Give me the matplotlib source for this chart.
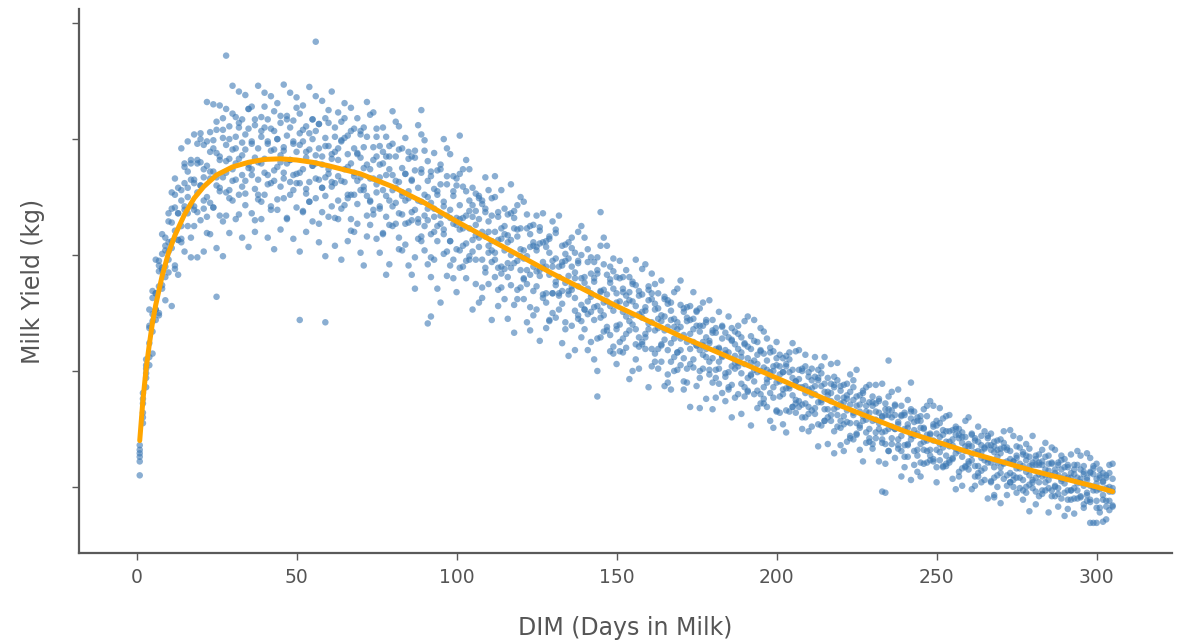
import matplotlib

matplotlib.use("Agg")
import matplotlib.pyplot as plt
import numpy as np

# Daily milk records: one row per DIM (day 1 .. 305), yields in kg.
milk_kg_by_day = [
    [13.6, 12.9, 12.6, 11.0], [15.5, 16.4, 17.2, 18.1], [18.6, 19.4, 20.5, 21.0],
    [20.5, 22.4, 23.7, 25.3], [23.4, 24.9, 26.3, 21.5], [26.7, 25.3, 29.6, 24.4],
    [27.3, 29.5, 24.8, 28.6], [30.1, 27.1, 28.7, 31.8], [26.1, 30.4, 29.0, 31.5],
    [33.6, 29.6, 31.1, 28.5], [31.2, 34.0, 25.6, 35.4], [29.1, 32.1, 34.1, 36.6],
    [31.3, 33.6, 35.8, 28.3], [34.7, 32.5, 39.2, 31.1], [34.2, 37.6, 30.3, 36.2],
    [37.2, 32.5, 35.0, 39.8], [29.8, 36.5, 34.3, 38.2], [40.4, 34.2, 36.5, 32.5],
    [35.4, 38.2, 29.8, 39.6], [33.0, 36.0, 38.0, 40.5],
    # day 21
    [34.0, 36.7, 39.5, 30.3], [37.7, 35.0, 43.2, 33.3], [36.6, 40.6, 31.8, 38.9],
    [39.9, 34.1, 37.2, 43.0], [30.6, 38.8, 36.0, 40.8], [42.9, 35.5, 38.2, 33.4],
    [36.7, 40.1, 29.9, 41.8], [33.4, 37.1, 39.5, 42.6], [35.6, 38.3, 41.1, 31.9],
    [39.1, 36.4, 44.6, 34.7], [37.9, 41.9, 33.1, 40.2], [41.0, 35.2, 38.3, 44.1],
    [31.5, 39.7, 36.9, 41.7], [43.8, 36.4, 39.1, 34.3], [37.5, 40.9, 30.7, 42.6],
    [33.6, 37.4, 39.8, 42.8], [35.7, 38.4, 41.2, 32.0], [39.2, 36.5, 44.6, 34.8],
    [37.9, 41.9, 33.1, 40.2], [41.0, 35.2, 38.3, 44.0],
    # day 41
    [31.5, 39.6, 36.9, 41.7], [43.7, 36.2, 39.0, 34.2], [37.3, 40.7, 30.5, 42.4],
    [33.9, 37.6, 40.0, 43.1], [35.9, 38.6, 41.4, 32.2], [39.3, 36.6, 44.7, 34.9],
    [37.9, 42.0, 33.2, 40.3], [41.0, 35.2, 38.2, 44.0], [31.4, 39.6, 36.9, 41.6],
    [43.6, 36.2, 38.9, 34.1], [37.1, 40.5, 30.3, 42.2], [33.7, 37.4, 39.8, 42.9],
    [35.7, 38.4, 41.1, 32.0], [39.1, 36.3, 44.5, 34.6], [37.7, 41.7, 32.9, 40.0],
    [40.7, 34.9, 37.9, 43.7], [31.1, 39.2, 36.5, 41.3], [43.3, 35.8, 38.5, 33.7],
    [36.7, 40.1, 29.9, 41.8], [33.3, 37.0, 39.4, 42.5],
    # day 61
    [38.7, 35.9, 44.1, 34.2], [30.8, 38.9, 36.2, 41.0], [33.1, 36.8, 39.2, 42.3],
    [36.4, 39.8, 29.6, 41.5], [40.1, 34.3, 37.4, 43.1], [34.9, 37.6, 40.3, 31.2],
    [42.7, 35.2, 37.9, 33.1], [36.8, 40.9, 32.0, 39.2], [32.7, 36.4, 38.8, 41.8],
    [30.2, 38.4, 35.6, 40.4], [35.9, 39.3, 29.1, 41.0], [37.8, 35.1, 43.2, 33.4],
    [42.1, 34.6, 37.4, 32.6], [39.3, 33.5, 36.6, 42.3], [36.1, 40.2, 31.4, 38.5],
    [34.0, 36.7, 39.4, 30.2], [31.8, 35.6, 37.9, 41.0], [35.1, 38.5, 28.3, 40.2],
    [29.2, 37.4, 34.7, 39.4], [36.9, 34.2, 42.4, 32.5],
    # day 81
    [38.5, 32.7, 35.8, 41.5], [41.1, 33.6, 36.3, 31.5], [35.1, 39.2, 30.4, 37.5],
    [30.9, 34.7, 37.0, 40.1], [32.8, 35.5, 38.3, 29.1], [28.3, 36.4, 33.7, 38.5],
    [33.9, 37.3, 27.1, 39.0], [35.8, 33.1, 41.2, 31.4], [37.4, 31.6, 34.6, 40.4],
    [39.9, 32.5, 35.2, 30.4], [34.0, 38.1, 29.2, 36.4], [31.8, 34.5, 37.2, 28.1],
    [29.6, 33.3, 35.7, 38.8], [27.1, 35.2, 32.5, 37.3], [32.7, 36.1, 25.9, 37.8],
    [34.6, 31.8, 40.0, 30.1], [36.1, 30.3, 33.4, 39.2], [38.7, 31.2, 33.9, 29.1],
    [32.7, 36.8, 28.0, 35.1], [30.5, 33.2, 36.0, 26.8],
    # day 101
    [28.9, 32.2, 34.3, 37.0], [37.4, 30.8, 33.2, 29.0], [33.4, 31.0, 38.2, 29.5],
    [34.7, 29.6, 32.3, 37.4], [31.3, 34.3, 25.3, 35.8], [31.7, 35.3, 27.5, 33.8],
    [25.9, 33.1, 30.7, 34.9], [29.6, 32.0, 34.4, 26.3], [34.0, 28.9, 31.6, 36.7],
    [27.5, 30.8, 32.9, 35.6], [30.4, 33.4, 24.4, 34.9], [32.0, 29.6, 36.8, 28.1],
    [28.9, 31.3, 33.7, 25.6], [35.6, 29.0, 31.4, 27.2], [30.4, 34.0, 26.2, 32.5],
    [24.5, 31.7, 29.3, 33.5], [31.3, 28.9, 36.1, 27.4], [29.3, 32.3, 23.3, 33.8],
    [26.2, 29.5, 31.6, 34.3], [32.3, 27.2, 29.9, 35.0],
    # day 121
    [34.6, 28.0, 30.4, 26.2], [27.5, 29.9, 32.3, 24.2], [23.5, 30.7, 28.3, 32.5],
    [29.0, 32.6, 24.8, 31.1], [25.3, 28.6, 30.7, 33.4], [28.2, 31.0, 22.6, 32.4],
    [31.1, 26.3, 28.9, 33.6], [26.7, 29.0, 31.2, 23.7], [28.3, 31.6, 24.4, 30.2],
    [32.9, 26.7, 29.0, 25.0], [24.6, 27.7, 29.7, 32.2], [29.0, 26.7, 33.4, 25.3],
    [22.4, 29.1, 26.9, 30.8], [27.6, 30.9, 23.6, 29.5], [26.9, 29.7, 21.3, 31.1],
    [23.9, 27.0, 29.0, 31.5], [21.8, 28.5, 26.3, 30.2], [29.5, 24.8, 27.3, 32.0],
    [28.0, 25.7, 32.5, 24.3], [31.5, 25.3, 27.6, 23.6],
    # day 141
    [24.9, 27.1, 29.4, 21.8], [26.4, 29.8, 22.5, 28.4], [21.0, 27.7, 25.5, 29.4],
    [25.6, 28.4, 20.0, 29.8], [30.8, 24.6, 26.9, 22.9], [27.0, 24.8, 31.5, 23.4],
    [28.3, 23.5, 26.0, 30.8], [25.6, 29.0, 21.7, 27.6], [22.1, 25.2, 27.1, 29.7],
    [23.6, 25.9, 28.1, 20.6], [29.5, 24.0, 26.0, 22.5], [25.1, 28.1, 21.6, 26.8],
    [22.0, 24.7, 26.5, 28.7], [24.3, 26.8, 19.3, 28.1], [20.0, 26.0, 24.0, 27.5],
    [25.6, 23.6, 29.6, 22.3], [22.9, 24.9, 26.9, 20.2], [26.6, 22.3, 24.6, 28.8],
    [25.2, 23.2, 29.2, 21.9], [23.6, 26.1, 18.6, 27.3],
    # day 161
    [26.2, 21.9, 24.2, 28.4], [20.8, 23.5, 25.3, 27.5], [23.7, 26.7, 20.2, 25.4],
    [27.8, 22.3, 24.3, 20.8], [18.7, 24.7, 22.7, 26.2], [21.8, 23.8, 25.8, 19.0],
    [18.4, 24.4, 22.4, 25.9], [20.0, 22.8, 24.5, 26.8], [27.1, 21.6, 23.6, 20.1],
    [23.8, 21.8, 27.8, 20.5], [21.1, 23.1, 25.1, 18.4], [22.5, 25.5, 19.0, 24.3],
    [21.9, 24.4, 16.9, 25.6], [24.5, 20.3, 22.5, 26.8], [22.2, 25.2, 18.7, 23.9],
    [19.4, 21.8, 23.4, 25.4], [23.9, 20.2, 22.2, 25.9], [17.6, 22.9, 21.2, 24.2],
    [22.6, 20.8, 26.1, 19.7], [21.1, 23.3, 16.7, 24.4],
    # day 181
    [20.1, 21.9, 23.7, 17.7], [25.1, 20.2, 22.0, 18.9], [21.2, 23.9, 18.1, 22.8],
    [19.8, 21.5, 23.3, 17.4], [24.7, 19.9, 21.6, 18.6], [20.4, 22.6, 16.0, 23.7],
    [20.7, 23.4, 17.7, 22.3], [18.0, 20.4, 21.9, 23.9], [16.3, 21.6, 19.8, 22.9],
    [22.4, 18.6, 20.6, 24.3], [21.1, 19.4, 24.7, 18.3], [19.7, 21.9, 15.3, 23.0],
    [20.9, 19.1, 24.4, 18.0], [19.9, 22.5, 16.8, 21.4], [21.8, 18.0, 20.0, 23.7],
    [23.4, 18.6, 20.3, 17.2], [16.9, 19.3, 20.9, 22.8], [18.1, 19.9, 21.6, 15.7],
    [15.1, 20.4, 18.6, 21.7], [16.5, 19.0, 20.5, 22.5],
    # day 201
    [19.1, 21.4, 16.4, 20.4], [15.4, 19.9, 18.4, 21.1], [18.5, 20.4, 14.7, 21.3],
    [16.5, 18.5, 19.9, 21.6], [19.4, 17.9, 22.4, 16.9], [21.7, 17.5, 19.1, 16.4],
    [20.1, 16.9, 18.6, 21.8], [17.1, 18.6, 20.2, 15.0], [21.4, 17.2, 18.7, 16.0],
    [16.9, 18.4, 19.9, 14.8], [17.9, 20.2, 15.2, 19.2], [19.5, 16.3, 18.0, 21.2],
    [17.3, 19.2, 13.5, 20.1], [15.3, 17.3, 18.7, 20.4], [18.2, 16.7, 21.2, 15.7],
    [13.7, 18.2, 16.7, 19.4], [18.9, 15.7, 17.4, 20.6], [16.7, 18.6, 12.9, 19.5],
    [17.7, 16.2, 20.7, 15.2], [15.7, 17.2, 18.7, 13.6],
    # day 221
    [13.1, 17.7, 16.1, 18.8], [16.6, 18.9, 13.9, 17.9], [19.7, 15.5, 17.1, 14.4],
    [14.1, 16.2, 17.5, 19.2], [17.0, 15.5, 20.1, 14.6], [15.1, 16.5, 17.9, 13.2],
    [15.7, 17.5, 12.2, 18.3], [13.8, 15.8, 17.0, 18.6], [18.8, 15.0, 16.4, 13.9],
    [15.7, 17.8, 13.3, 17.0], [17.2, 14.2, 15.8, 18.8], [12.2, 16.4, 15.0, 17.4],
    [16.1, 14.7, 18.9, 13.8], [12.0, 16.2, 14.8, 17.2], [13.1, 15.0, 16.2, 17.8],
    [16.6, 13.7, 15.2, 18.2], [15.0, 17.1, 12.5, 16.2], [15.6, 14.1, 18.4, 13.3],
    [14.4, 16.1, 10.9, 17.0], [13.6, 15.0, 16.4, 11.7],
    # day 241
    [17.5, 13.7, 15.1, 12.6], [14.1, 15.9, 10.6, 16.7], [14.4, 16.5, 11.9, 15.6],
    [13.2, 14.6, 16.0, 11.3], [10.9, 15.1, 13.7, 16.1], [12.0, 13.9, 15.1, 16.7],
    [17.0, 13.1, 14.5, 12.1], [14.6, 13.2, 17.4, 12.3], [15.4, 12.4, 14.0, 17.0],
    [10.4, 14.6, 13.2, 15.7], [14.3, 13.0, 16.8, 12.3], [11.7, 13.4, 14.5, 15.9],
    [16.1, 12.7, 13.9, 11.8], [14.8, 12.1, 13.5, 16.2], [12.4, 13.6, 14.9, 10.7],
    [12.9, 14.5, 9.8, 15.2], [13.1, 15.0, 10.9, 14.2], [10.1, 13.8, 12.6, 14.7],
    [14.3, 11.7, 13.1, 15.7], [13.5, 12.2, 16.0, 11.5],
    # day 261
    [9.8, 13.5, 12.3, 14.5], [11.8, 13.0, 14.2, 10.1], [15.2, 11.8, 13.1, 10.9],
    [12.5, 14.4, 10.4, 13.6], [10.6, 12.3, 13.4, 14.8], [12.1, 13.6, 9.0, 14.4],
    [10.4, 12.1, 13.2, 14.6], [9.3, 13.0, 11.7, 13.9], [12.1, 14.0, 10.0, 13.2],
    [11.7, 13.3, 8.6, 14.1], [13.4, 10.7, 12.1, 14.8], [11.0, 12.2, 13.4, 9.3],
    [12.4, 11.2, 14.9, 10.4], [14.4, 11.0, 12.2, 10.0], [11.6, 13.5, 9.5, 12.7],
    [14.2, 10.8, 12.0, 9.9], [10.6, 11.8, 13.0, 8.9], [9.5, 11.3, 12.3, 13.7],
    [11.0, 12.6, 7.9, 13.3], [11.9, 10.6, 14.4, 9.9],
    # day 281
    [8.5, 11.9, 10.8, 12.7], [11.1, 12.8, 9.2, 12.1], [9.4, 10.9, 11.9, 13.2],
    [11.5, 10.4, 13.8, 9.7], [10.6, 12.0, 7.8, 12.7], [12.1, 9.7, 11.0, 13.4],
    [13.2, 10.1, 11.2, 9.2], [9.9, 11.0, 12.1, 8.3], [9.0, 10.5, 11.5, 12.7],
    [10.3, 11.7, 7.5, 12.4], [9.7, 10.8, 11.9, 8.1], [12.8, 9.7, 10.8, 8.9],
    [7.7, 11.1, 9.9, 11.9], [10.8, 9.7, 13.1, 9.0], [11.5, 9.1, 10.4, 12.7],
    [10.1, 11.8, 8.2, 11.1], [10.6, 9.5, 12.9, 8.8], [11.3, 8.9, 10.1, 12.5],
    [9.7, 11.1, 6.9, 11.8], [8.2, 9.7, 10.7, 12.0],
    # day 301
    [9.8, 11.5, 7.8, 10.8], [7.0, 10.4, 9.3, 11.2], [8.8, 9.9, 11.0, 7.2],
    [11.9, 8.8, 10.0, 8.0], [10.7, 8.3, 9.6, 12.0],
]

# Second batch of records for the same days (day 1 .. 305), two per day
milk_kg_by_day_b = [
    [13.2, 12.2], [16.0, 17.6], [19.8, 20.2], [21.2, 23.9], [26.9, 24.3],
    [25.3, 26.7], [29.1, 25.0], [28.9, 27.4], [28.1, 30.8], [32.9, 30.3],
    [30.6, 32.8], [35.2, 28.8], [33.6, 31.3], [31.4, 35.6], [37.9, 33.9],
    [33.6, 35.8], [37.9, 31.5], [36.2, 33.9], [33.7, 37.9], [40.0, 36.0],
    # day 21
    [34.7, 37.4], [39.8, 31.9], [37.2, 34.5], [34.1, 39.2], [41.5, 36.7],
    [35.8, 38.5], [40.8, 32.9], [38.1, 35.4], [34.9, 40.0], [42.2, 37.4],
    [36.5, 39.2], [41.4, 33.5], [38.6, 35.9], [35.3, 40.4], [42.6, 37.8],
    [36.9, 39.6], [41.7, 33.0], [38.0, 35.2], [34.6, 40.7], [42.8, 37.1],
    # day 41
    [36.1, 39.8], [40.9, 33.9], [39.1, 36.4], [34.8, 40.0], [42.0, 38.0],
    [37.1, 39.0], [41.7, 33.1], [38.2, 36.3], [35.6, 39.8], [42.7, 37.0],
    [36.2, 39.5], [40.8, 33.8], [38.9, 35.3], [34.6, 40.5], [41.7, 37.7],
    [36.6, 38.6], [41.3, 32.7], [37.8, 35.8], [35.1, 39.4], [41.4, 37.4],
    # day 61
    [36.3, 38.3], [40.2, 33.2], [38.2, 34.7], [34.0, 39.9], [41.8, 36.3],
    [35.2, 38.7], [40.7, 32.1], [37.1, 35.2], [34.4, 38.7], [40.7, 36.7],
    [35.6, 37.5], [40.2, 31.6], [36.6, 34.7], [33.9, 38.2], [40.9, 35.4],
    [34.2, 37.8], [38.9, 31.9], [36.9, 33.3], [32.6, 38.5], [39.6, 35.6],
    # day 81
    [34.5, 36.4], [39.1, 30.5], [35.4, 33.5], [32.7, 37.0], [38.9, 34.9],
    [33.0, 36.5], [38.4, 29.8], [34.7, 32.8], [31.2, 37.1], [39.0, 33.4],
    [33.0, 35.0], [36.8, 29.8], [34.0, 32.0], [31.2, 35.5], [37.4, 33.4],
    [32.2, 34.2], [36.8, 28.2], [33.2, 31.2], [29.6, 35.5], [36.6, 32.6],
    # day 101
    [33.1, 30.4], [35.9, 32.3], [35.5, 28.0], [29.9, 33.8], [30.3, 33.3],
    [32.6, 29.6], [35.1, 31.5], [34.7, 27.2], [28.5, 33.7], [30.2, 32.0],
    [31.2, 29.4], [35.0, 30.2], [33.3, 27.0], [28.4, 32.3], [28.8, 31.8],
    [31.1, 28.1], [33.6, 30.0], [33.2, 25.7], [27.0, 32.2], [28.7, 30.5],
    # day 121
    [29.7, 27.9], [33.5, 28.7], [31.8, 25.5], [26.9, 30.8], [27.3, 30.4],
    [32.1, 28.7], [29.4, 26.6], [25.9, 30.7], [31.4, 24.3], [26.7, 29.5],
    [31.9, 27.4], [28.1, 26.5], [25.8, 29.4], [30.1, 24.2], [26.6, 28.2],
    [30.6, 27.3], [28.0, 25.2], [24.5, 29.3], [30.0, 22.9], [25.3, 28.1],
    # day 141
    [30.5, 26.0], [26.7, 25.1], [24.4, 28.0], [28.7, 22.8], [25.2, 26.8],
    [29.2, 25.9], [26.6, 23.8], [23.1, 27.9], [28.6, 21.5], [23.9, 26.7],
    [28.0, 21.7], [22.8, 27.1], [25.8, 23.2], [23.5, 26.1], [27.7, 24.8],
    [27.4, 21.0], [22.1, 26.5], [25.1, 22.5], [22.9, 25.5], [27.0, 24.1],
    # day 161
    [26.7, 20.4], [21.5, 25.8], [24.5, 21.9], [22.2, 24.8], [26.4, 23.5],
    [26.1, 19.7], [20.8, 25.2], [23.8, 21.2], [21.6, 24.2], [25.7, 22.8],
    [25.4, 19.1], [20.2, 24.6], [23.2, 20.6], [21.0, 23.6], [25.1, 22.2],
    [20.0, 23.9], [21.4, 22.5], [24.4, 21.9], [22.4, 20.1], [23.5, 19.0],
    # day 181
    [19.4, 23.3], [20.8, 21.9], [23.8, 21.3], [21.8, 19.5], [22.9, 18.4],
    [18.8, 22.7], [20.2, 21.3], [23.2, 20.7], [21.2, 18.9], [22.3, 17.8],
    [18.2, 22.1], [19.6, 20.7], [22.6, 20.1], [20.6, 18.3], [21.7, 17.2],
    [17.6, 21.5], [19.0, 20.1], [22.0, 19.5], [20.0, 17.7], [21.1, 16.6],
    # day 201
    [19.7, 17.8], [18.0, 19.9], [20.6, 16.6], [21.0, 18.7], [16.9, 20.1],
    [19.1, 17.2], [17.4, 19.3], [20.0, 16.0], [20.4, 18.1], [16.3, 19.5],
    [18.5, 16.6], [16.8, 18.7], [19.4, 15.4], [19.8, 17.5], [15.7, 18.9],
    [17.9, 16.0], [16.2, 18.1], [18.8, 14.8], [19.2, 16.9], [15.1, 18.3],
    # day 221
    [17.3, 15.4], [15.6, 17.6], [18.2, 14.2], [18.6, 16.4], [14.5, 17.8],
    [15.3, 17.1], [18.1, 16.1], [16.5, 14.7], [14.2, 17.3], [17.3, 13.7],
    [14.7, 16.5], [17.6, 15.5], [16.0, 14.1], [13.7, 16.7], [16.7, 13.1],
    [14.2, 16.0], [17.0, 15.0], [15.4, 13.6], [13.1, 16.2], [16.2, 12.6],
    # day 241
    [13.6, 15.4], [16.5, 14.5], [14.9, 13.1], [12.7, 15.7], [15.7, 12.1],
    [13.2, 15.0], [16.1, 14.0], [14.5, 12.7], [12.2, 15.2], [15.3, 11.7],
    [15.5, 13.7], [14.9, 11.8], [12.0, 14.8], [13.9, 12.3], [12.5, 14.1],
    [15.0, 13.3], [14.5, 11.3], [11.6, 14.3], [13.5, 11.8], [12.0, 13.7],
    # day 261
    [14.6, 12.8], [14.0, 10.9], [11.2, 13.9], [13.0, 11.4], [11.6, 13.3],
    [14.2, 12.4], [13.6, 10.5], [10.8, 13.5], [12.6, 11.0], [11.2, 12.9],
    [13.8, 12.0], [13.2, 10.1], [10.4, 13.1], [12.2, 10.6], [10.8, 12.5],
    [13.4, 11.6], [12.8, 9.7], [10.0, 12.7], [11.8, 10.2], [10.4, 12.1],
    # day 281
    [12.4, 9.6], [10.4, 11.9], [9.7, 12.2], [12.6, 11.0], [11.4, 9.9],
    [12.0, 9.2], [10.0, 11.5], [9.4, 11.9], [12.3, 10.7], [11.0, 9.5],
    [11.7, 8.9], [9.7, 11.2], [9.0, 11.5], [11.9, 10.3], [10.7, 9.2],
    [11.3, 8.5], [9.3, 10.8], [8.7, 11.2], [11.6, 10.0], [10.3, 8.8],
    # day 301
    [11.0, 8.2], [8.9, 10.5], [8.3, 10.8], [11.2, 9.6], [9.9, 8.4],
]

# Stray records sitting outside the main band
outlier_days = [28, 56, 25, 59, 91, 92, 51, 89, 101, 145, 144, 176, 235, 242, 234, 268, 298, 300, 233]
outlier_kg = [47.2, 48.4, 26.4, 24.2, 24.1, 24.7, 24.4, 42.5, 40.3, 33.7, 17.8, 16.8, 20.9, 19.0, 9.5, 9.1, 6.9, 6.9, 9.6]

# Fitted lactation curve (orange line)
curve_days = [1, 2, 3, 4, 5, 6, 8, 10, 12, 15, 18, 21, 25, 30, 35, 40, 45, 50, 55, 60,
              70, 80, 90, 100, 110, 120, 130, 140, 150, 160, 170, 180, 190, 200,
              210, 220, 230, 240, 250, 260, 270, 280, 290, 300, 305]
curve_kg = [14.0, 17.5, 20.2, 22.3, 24.2, 25.7, 28.2, 30.2, 31.7, 33.5, 34.9, 35.9, 36.9, 37.6,
            38.0, 38.25, 38.3, 38.2, 38.0, 37.7, 37.0, 35.9, 34.5, 32.9, 31.4, 29.9, 28.4,
            27.0, 25.6, 24.3, 23.0, 21.8, 20.6, 19.4, 18.2, 17.0, 15.9, 14.8, 13.9, 13.0,
            12.2, 11.4, 10.7, 10.0, 9.6]

x_ticks = [0, 50, 100, 150, 200, 250, 300]
y_ticks = [10, 20, 30, 40, 50]

AXIS_GRAY = "#5a5a5a"
TEXT_GRAY = "#555555"


def flatten_by_day(rows):
    days, values = [], []
    for day, row in enumerate(rows, start=1):
        days.extend([day] * len(row))
        values.extend(row)
    return days, values


def main() -> None:
    days_a, kg_a = flatten_by_day(milk_kg_by_day)
    days_b, kg_b = flatten_by_day(milk_kg_by_day_b)
    days = days_a + days_b + outlier_days
    yields = kg_a + kg_b + outlier_kg

    fig = plt.figure(figsize=(11.78, 6.42), dpi=100)
    ax = fig.add_axes([0.067, 0.1386, 0.928, 0.847])

    ax.scatter(days, yields, s=22, color="#3d79b4", alpha=0.6, edgecolors="none", zorder=2)
    ax.plot(curve_days, curve_kg, color="#FFA500", lw=3.6, solid_capstyle="round", zorder=3)

    ax.set_xlim(-18, 323.6)
    ax.set_ylim(4.3, 51.2)
    ax.set_xticks(x_ticks)
    ax.set_yticks(y_ticks)
    ax.set_yticklabels([])

    for side in ("top", "right"):
        ax.spines[side].set_visible(False)
    for side in ("left", "bottom"):
        ax.spines[side].set_color(AXIS_GRAY)
        ax.spines[side].set_linewidth(1.6)

    ax.tick_params(axis="both", colors=AXIS_GRAY, length=5, width=1.0, direction="out")
    ax.tick_params(axis="x", labelsize=13.5, labelcolor=TEXT_GRAY, pad=6)

    ax.set_xlabel("DIM (Days in Milk)", fontsize=17, color=TEXT_GRAY, labelpad=21)
    ax.set_ylabel("Milk Yield (kg)", fontsize=17, color=TEXT_GRAY, labelpad=16)

    fig.savefig("out.png", dpi=100)
    plt.close(fig)


if __name__ == "__main__":
    main()
